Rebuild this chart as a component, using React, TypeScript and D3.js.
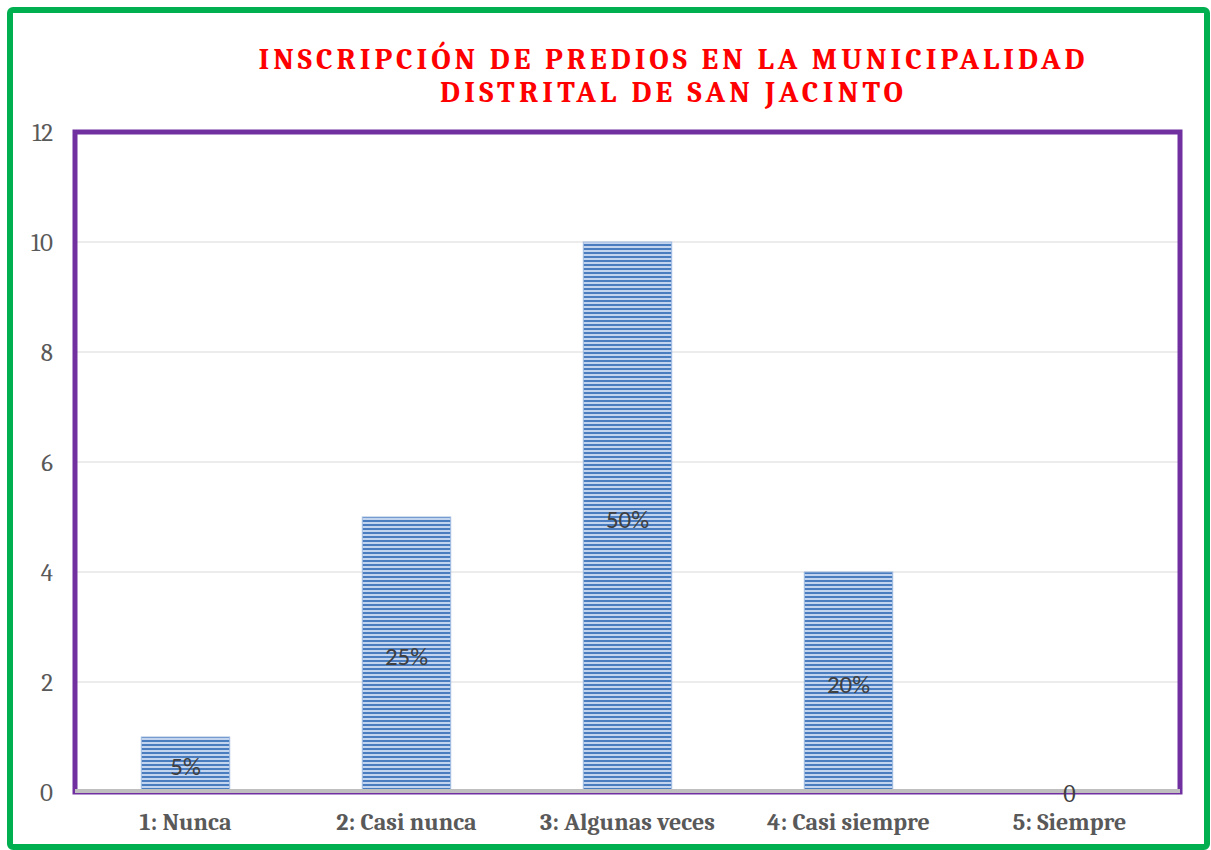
import React from 'react';
import * as d3 from 'd3';

const categories = ['1: Nunca', '2: Casi nunca', '3: Algunas veces', '4: Casi siempre', '5: Siempre'];
const values = [1, 5, 10, 4, 0];
const percentLabels = ['5%', '25%', '50%', '20%', '0'];
const yTicks = [0, 2, 4, 6, 8, 10, 12];
const titleLines = ['INSCRIPCIÓN DE PREDIOS EN LA MUNICIPALIDAD', 'DISTRITAL DE SAN JACINTO'];
const titleWidths = [829, 466];

const W = 1211;
const H = 850;
const margin = { top: 132, right: 31, bottom: 58, left: 75 };

export default function App() {
  const innerW = W - margin.left - margin.right;
  const innerH = H - margin.top - margin.bottom;

  const xScale = d3.scaleBand().domain(categories).range([0, innerW]).paddingInner(0.6).paddingOuter(0.3);
  const yScale = d3.scaleLinear().domain([0, 12]).range([innerH, 0]);

  const serif = "Cambria, Caladea, 'Liberation Serif', 'DejaVu Serif', serif";

  return (
    <svg width={W} height={H} style={{ position: 'absolute', left: 0, top: 0, background: '#fff' }}>
      <defs>
        <pattern id="stripes" width="4" height="4" patternUnits="userSpaceOnUse">
          <rect width="4" height="4" fill="#c3d5ee" />
          <rect y="0" width="4" height="2" fill="#4a7cc0" />
        </pattern>
      </defs>

      {/* outer green frame */}
      <rect x={10} y={10} width={1197} height={837} fill="none" stroke="#00b050" strokeWidth={6} rx={3} />

      {/* title */}
      {titleLines.map((t, i) => (
        <text
          key={t}
          x={673}
          y={69 + i * 33}
          textAnchor="middle"
          fill="#ff0000"
          fontFamily={serif}
          fontWeight="bold"
          fontSize={30}
          letterSpacing={3}
          textLength={titleWidths[i]}
          lengthAdjust="spacing"
        >
          {t}
        </text>
      ))}

      <g transform={`translate(${margin.left},${margin.top})`}>
        {/* gridlines */}
        {yTicks.filter((t) => t > 0).map((t) => (
          <line key={t} x1={0} x2={innerW} y1={yScale(t)} y2={yScale(t)} stroke="#d9d9d9" strokeWidth={1} />
        ))}

        {/* y tick labels */}
        {yTicks.map((t) => (
          <text
            key={t}
            x={-22}
            y={yScale(t)}
            dy="0.35em"
            textAnchor="end"
            fill="#595959"
            fontFamily={serif}
            fontSize={25}
          >
            {t}
          </text>
        ))}

        {/* bars */}
        {categories.map((c, i) => (
          <rect
            key={c}
            x={xScale(c)}
            y={yScale(values[i])}
            width={xScale.bandwidth()}
            height={innerH - yScale(values[i])}
            fill="url(#stripes)"
            stroke="#9fbbe0"
            strokeWidth={1}
          />
        ))}

        {/* plot border */}
        <rect x={0} y={0} width={innerW} height={innerH} fill="none" stroke="#7030a0" strokeWidth={5} />
        {/* zero axis */}
        <line x1={0} x2={innerW} y1={innerH - 1} y2={innerH - 1} stroke="#bfbfbf" strokeWidth={4} />

        {/* data labels */}
        {categories.map((c, i) => (
          <text
            key={c}
            x={(xScale(c) as number) + xScale.bandwidth() / 2}
            y={(yScale(values[i]) + innerH) / 2 + 2}
            dy="0.35em"
            textAnchor="middle"
            fill="#404040"
            fontFamily={values[i] === 0 ? serif : "Carlito, 'Liberation Sans', 'DejaVu Sans', sans-serif"}
            fontSize={values[i] === 0 ? 24 : 25}
          >
            {percentLabels[i]}
          </text>
        ))}

        {/* x labels */}
        {categories.map((c) => (
          <text
            key={c}
            x={(xScale(c) as number) + xScale.bandwidth() / 2}
            y={innerH + 38}
            textAnchor="middle"
            fill="#595959"
            fontFamily={serif}
            fontWeight="bold"
            fontSize={24}
          >
            {c}
          </text>
        ))}
      </g>
    </svg>
  );
}
